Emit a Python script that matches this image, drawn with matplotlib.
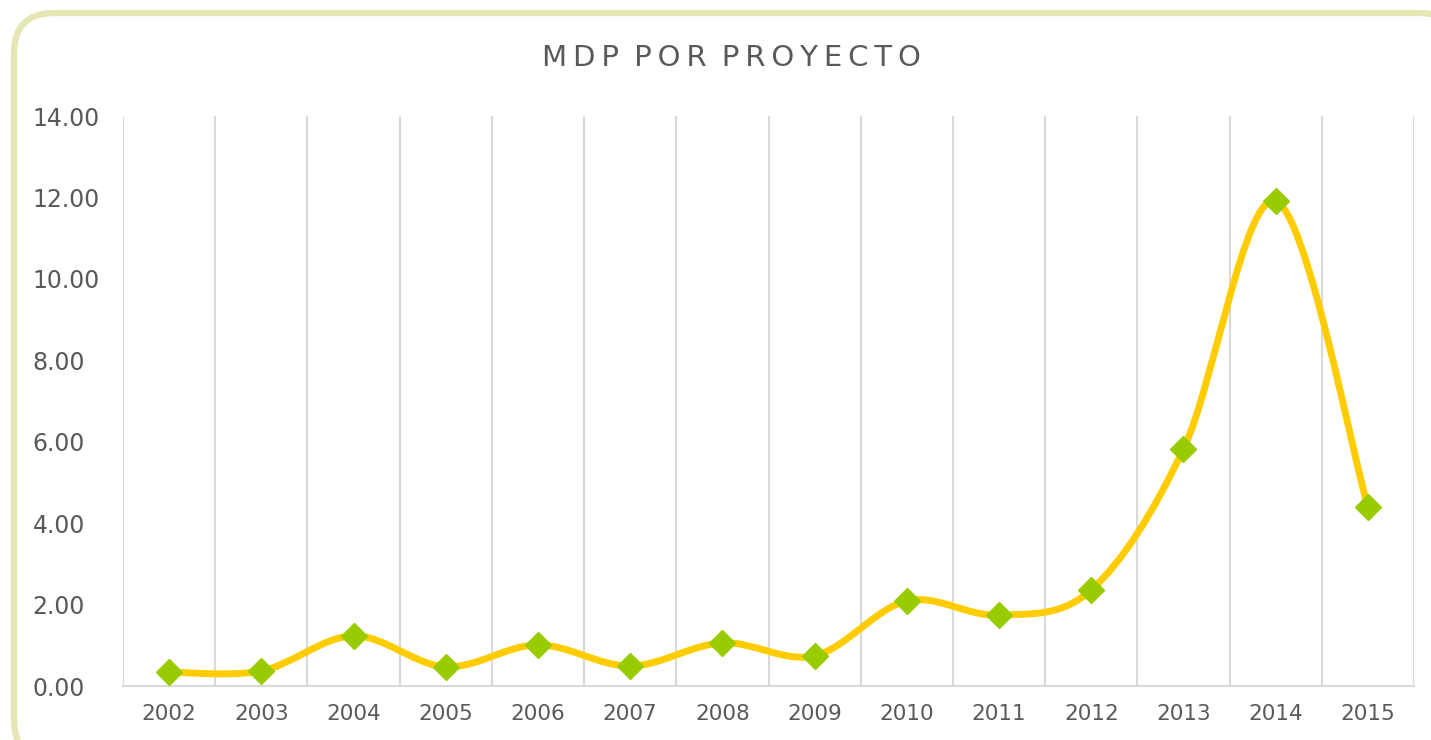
import matplotlib.pyplot as plt
import numpy as np
from matplotlib.patches import FancyBboxPatch
from matplotlib.path import Path
from matplotlib.patches import PathPatch

years = ["2002", "2003", "2004", "2005", "2006", "2007", "2008",
         "2009", "2010", "2011", "2012", "2013", "2014", "2015"]
mdp = [0.34, 0.37, 1.23, 0.47, 1.01, 0.49, 1.06,
       0.74, 2.09, 1.74, 2.36, 5.82, 11.91, 4.40]
y_ticks = [0, 2, 4, 6, 8, 10, 12, 14]

text_col = "#595959"
grid_col = "#D9D9D9"

fig = plt.figure(figsize=(14.31, 7.40), dpi=100)
W, H = 1431, 740

# rounded outer border (runs off right and bottom edges like the original)
border = FancyBboxPatch((14 / W, -20 / H), (1460 - 14) / W, (727 - -20) / H,
                        boxstyle="round,pad=0,rounding_size=0.028",
                        transform=fig.transFigure, fc="white",
                        ec="#E6E6B4", lw=4.5, zorder=-5,
                        mutation_aspect=W / H)
fig.patches.append(border)

ax = fig.add_axes([123 / W, 1 - 686 / H, (1414 - 123) / W, (686 - 116) / H])
ax.set_facecolor("none")

x = np.arange(len(years))
y = np.array(mdp)

# smoothed line (Catmull-Rom style bezier, like a spreadsheet "smoothed line")
pts = np.column_stack([x, y])
ext = np.vstack([pts[0], pts, pts[-1]])
verts = [tuple(pts[0])]
codes = [Path.MOVETO]
for i in range(len(pts) - 1):
    p0, p1, p2, p3 = ext[i], ext[i + 1], ext[i + 2], ext[i + 3]
    c1 = p1 + (p2 - p0) / 6
    c2 = p2 - (p3 - p1) / 6
    verts += [tuple(c1), tuple(c2), tuple(p2)]
    codes += [Path.CURVE4, Path.CURVE4, Path.CURVE4]
ax.add_patch(PathPatch(Path(verts, codes), fc="none", ec="#FFCC00",
                       lw=5, capstyle="round", zorder=3))
ax.plot(x, y, ls="none", marker="D", ms=13, color="#99CC00",
        mec="#99CC00", zorder=4)

ax.set_xlim(-0.5, len(years) - 0.5)
ax.set_ylim(0, 14)
ax.set_yticks(y_ticks)
ax.set_yticklabels([f"{v:.2f}" for v in y_ticks], color=text_col, fontsize=17)
ax.set_xticks(x)
ax.set_xticklabels(years, color=text_col, fontsize=15.5)
ax.tick_params(axis="both", length=0)
ax.tick_params(axis="y", pad=65)
ax.tick_params(axis="x", pad=13)
for lab in ax.get_yticklabels():
    lab.set_horizontalalignment("left")

# vertical gridlines between categories
for b in np.arange(-0.5, len(years), 1.0):
    ax.axvline(b, color=grid_col, lw=1.5, zorder=1)

for s in ["top", "left", "right"]:
    ax.spines[s].set_visible(False)
ax.spines["bottom"].set_color(grid_col)
ax.spines["bottom"].set_linewidth(1.5)

title = " \u2009".join("\u2009".join(w) for w in "MDP POR PROYECTO".split())
fig.text(731 / W, 1 - 58 / H, title,
         ha="center", va="center", fontsize=21, color=text_col)

fig.savefig("out.png", dpi=100)
